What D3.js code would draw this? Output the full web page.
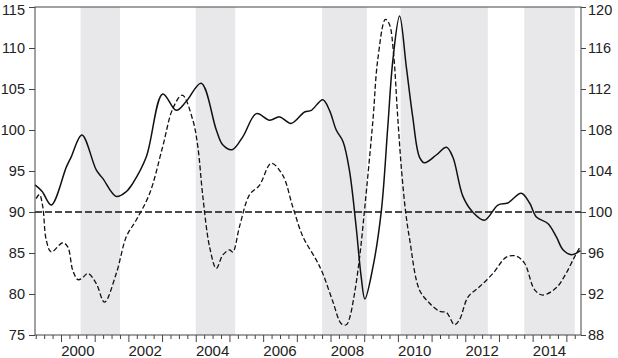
<!DOCTYPE html>
<meta charset="utf-8">
<head>
<style>
  body { margin: 0; background: #fff; }
  text { font-family: "Liberation Sans", Arial, sans-serif; fill: #222; }
</style>
</head>
<body>
<div id="chart"></div>
<script src="https://d3js.org/d3.v7.min.js"></script>
<script>

// solid series (left axis), time as decimal year
var solidT = [1999.23, 1999.44, 1999.71, 2000.16, 2000.30, 2000.62, 2001.05, 2001.24, 2001.64, 2001.94,
  2002.13, 2002.53, 2003.02, 2003.42, 2003.72, 2004.16, 2004.61, 2004.80, 2005.08, 2005.40,
  2005.80, 2006.19, 2006.49, 2006.83, 2007.23, 2007.43, 2007.77, 2007.97, 2008.17, 2008.37,
  2008.56, 2008.76, 2008.91, 2009.02, 2009.26, 2009.51, 2009.70, 2009.85, 2010.05, 2010.25,
  2010.44, 2010.64, 2010.79, 2011.14, 2011.44, 2011.63, 2011.93, 2012.22, 2012.57, 2012.97,
  2013.26, 2013.66, 2013.91, 2014.11, 2014.45, 2014.70, 2014.90, 2015.15, 2015.42];
var solidV = [93.3, 92.5, 90.85, 95.5, 96.7, 99.4, 95.1, 94.1, 91.9, 92.5,
  93.5, 96.7, 104.4, 102.4, 103.5, 105.7, 100.0, 98.2, 97.6, 99.2,
  102.0, 101.2, 101.6, 100.8, 102.2, 102.4, 103.7, 102.4, 100.0, 98.6,
  95.1, 88.2, 82.1, 79.4, 83.3, 90.2, 100.4, 108.5, 113.9, 107.7,
  101.6, 96.7, 96.0, 96.95, 97.9, 96.7, 91.9, 90.0, 89.0, 90.85,
  91.1, 92.3, 91.1, 89.4, 88.6, 87.0, 85.4, 84.8, 85.3];

// dashed series (right axis)
var dashT = [1999.26, 1999.36, 1999.46, 1999.56, 1999.71, 2000.05, 2000.20, 2000.35, 2000.50, 2000.61,
  2000.80, 2001.05, 2001.29, 2001.64, 2001.94, 2002.23, 2002.63, 2003.02, 2003.32, 2003.60,
  2003.91, 2004.06, 2004.21, 2004.41, 2004.61, 2004.80, 2005.00, 2005.10, 2005.30, 2005.60,
  2005.89, 2006.24, 2006.58, 2006.88, 2007.18, 2007.58, 2007.77, 2008.07, 2008.32, 2008.47,
  2008.56, 2008.71, 2008.86, 2009.01, 2009.26, 2009.40, 2009.63, 2009.75, 2009.87, 2009.99,
  2010.11, 2010.23, 2010.35, 2010.64, 2010.94, 2011.24, 2011.44, 2011.68, 2011.83, 2012.08,
  2012.42, 2012.82, 2013.22, 2013.51, 2013.76, 2014.06, 2014.30, 2014.70, 2014.99, 2015.24, 2015.39];
var dashV = [101.3, 101.7, 100.5, 97.3, 96.1, 97.0, 96.6, 94.3, 93.4, 93.5,
  94.0, 93.0, 91.2, 94.0, 97.6, 99.2, 101.8, 106.4, 110.1, 111.4,
  109.0, 106.4, 101.5, 96.6, 94.5, 95.8, 96.3, 96.1, 98.6, 101.7,
  102.6, 104.75, 103.6, 100.5, 97.6, 95.3, 94.0, 91.25, 89.1, 89.0,
  89.6, 92.0, 95.5, 100.2, 109.0, 114.8, 118.8, 118.3, 115.5, 109.5,
  104.0, 100.0, 97.3, 92.4, 91.1, 90.3, 90.2, 89.0, 89.5, 91.7,
  92.7, 94.0, 95.6, 95.7, 95.0, 92.4, 91.9, 92.6, 94.0, 95.6, 96.5];

// shaded periods
var bandStart = [2000.58, 2004.0, 2007.75, 2010.08, 2013.75];
var bandEnd = [2001.75, 2005.17, 2009.08, 2012.67, 2015.25];

var leftTicks = [75, 80, 85, 90, 95, 100, 105, 110, 115];
var rightTicks = [88, 92, 96, 100, 104, 108, 112, 116, 120];
var yearLabels = [2000, 2002, 2004, 2006, 2008, 2010, 2012, 2014];
var refLevel = 90;

var margin = {top: 7, right: 37, bottom: 23, left: 35},
    width = 618 - margin.left - margin.right,
    height = 358 - margin.top - margin.bottom;

var svg = d3.select("#chart")
  .append("svg")
    .attr("width", 618)
    .attr("height", 358)
  .append("g")
    .attr("transform", "translate(" + margin.left + "," + margin.top + ")");

var x = d3.scaleLinear().domain([1999.228, 2015.435]).range([0, width]);
var yL = d3.scaleLinear().domain([75, 115]).range([height, 0]);
var yR = d3.scaleLinear().domain([88, 120]).range([height, 0]);

// grey bands
svg.selectAll(".band")
  .data(bandStart)
  .enter()
  .append("rect")
    .attr("x", function(d) { return x(d); })
    .attr("width", function(d, i) { return x(bandEnd[i]) - x(d); })
    .attr("y", 0)
    .attr("height", height)
    .attr("fill", "#e8e8ea");

// reference line
svg.append("line")
  .attr("x1", 0).attr("x2", width)
  .attr("y1", yL(refLevel)).attr("y2", yL(refLevel))
  .attr("stroke", "#111")
  .attr("stroke-width", 1.4)
  .attr("stroke-dasharray", "7,3");

var lineL = d3.line()
  .x(function(d, i) { return x(solidT[i]); })
  .y(function(d) { return yL(d); })
  .curve(d3.curveCatmullRom.alpha(0.5));

var lineR = d3.line()
  .x(function(d, i) { return x(dashT[i]); })
  .y(function(d) { return yR(d); })
  .curve(d3.curveCatmullRom.alpha(0.5));

svg.append("path")
  .datum(dashV)
  .attr("d", lineR)
  .attr("fill", "none")
  .attr("stroke", "#111")
  .attr("stroke-width", 1.3)
  .attr("stroke-dasharray", "5,2.5");

svg.append("path")
  .datum(solidV)
  .attr("d", lineL)
  .attr("fill", "none")
  .attr("stroke", "#111")
  .attr("stroke-width", 1.5);

// frame
svg.append("rect")
  .attr("width", width).attr("height", height)
  .attr("fill", "none")
  .attr("stroke", "#444")
  .attr("stroke-width", 1);

// left axis
var gL = svg.append("g")
  .call(d3.axisLeft(yL).tickValues(leftTicks).tickSize(6).tickPadding(4));
// right axis
var gR = svg.append("g")
  .attr("transform", "translate(" + width + ",0)")
  .call(d3.axisRight(yR).tickValues(rightTicks).tickSize(5).tickPadding(2));

// x axis: quarter ticks and longer year ticks
var quarters = d3.range(1999.25, 2015.5, 0.25).filter(function(q) { return q % 1 !== 0; });
var years = d3.range(2000, 2016);
svg.append("g")
  .attr("transform", "translate(0," + height + ")")
  .call(d3.axisBottom(x).tickValues(quarters).tickSize(4).tickFormat(""));
svg.append("g")
  .attr("transform", "translate(0," + height + ")")
  .call(d3.axisBottom(x).tickValues(years).tickSize(7).tickFormat(""));

svg.selectAll(".yl")
  .data(yearLabels)
  .enter()
  .append("text")
    .attr("x", function(d) { return x(d + 0.5); })
    .attr("y", height + 21)
    .attr("text-anchor", "middle")
    .style("font-size", "15px")
    .text(function(d) { return d; });

svg.selectAll(".domain").remove();
svg.selectAll(".tick line").attr("stroke", "#444");
svg.selectAll(".tick text").style("font-size", "14.5px").style("font-family", "Liberation Sans, Arial, sans-serif").attr("fill", "#222");

// keep the top labels inside the picture
gL.selectAll(".tick text").filter(function(d) { return d === 115; }).attr("dy", "0.5em");
gR.selectAll(".tick text").filter(function(d) { return d === 120; }).attr("dy", "0.5em");

</script>
</body>
